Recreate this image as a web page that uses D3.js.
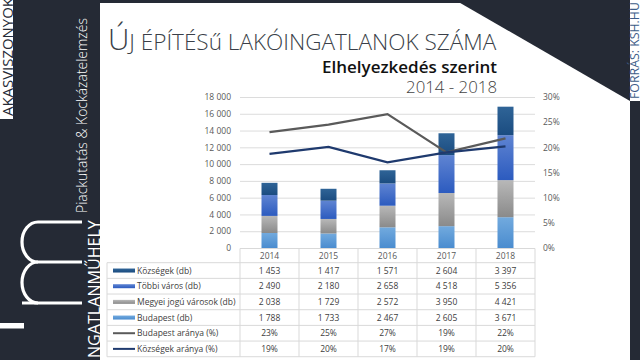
<!DOCTYPE html>
<html><head><meta charset="utf-8">
<script src="https://cdn.jsdelivr.net/npm/d3@7"></script>
<style>body{margin:0;background:#fff}svg{display:block}text{font-family:"Open Sans",sans-serif}</style>
</head><body><svg id="c" width="640" height="360"></svg>
<script>
const years = ["2014","2015","2016","2017","2018"];
const kozsegek = [1453,1417,1571,2604,3397];
const tobbiVaros = [2490,2180,2658,4518,5356];
const megyei = [2038,1729,2572,3950,4421];
const budapest = [1788,1733,2467,2605,3671];
const budapestArany = [23.0,24.5,26.6,19.0,21.8];
const kozsegekArany = [18.7,20.1,17.0,19.0,20.2];
const budapestAranyLabels = ["23%","25%","27%","19%","22%"];
const kozsegekAranyLabels = ["19%","20%","17%","19%","20%"];
const leftTicks = [0,2000,4000,6000,8000,10000,12000,14000,16000,18000];
const rightTicks = [0,5,10,15,20,25,30];
const seriesNames = ["Községek (db)","Többi város (db)","Megyei jogú városok (db)","Budapest (db)","Budapest aránya (%)","Községek aránya (%)"];

const DARK = "#252a35";
const svg = d3.select("#c");
const defs = svg.append("defs");
const grads = {
  bp: ["#72aade","#4a8ccf"],
  mj: ["#b8b8b8","#8a8a8a"],
  tv: ["#5f84d2","#2c5bbf"],
  kz: ["#2f6497","#1b4c80"]
};
Object.entries(grads).forEach(([k,c])=>{
  const g = defs.append("linearGradient").attr("id","g_"+k).attr("x1",0).attr("y1",0).attr("x2",0).attr("y2",1);
  g.append("stop").attr("offset","0%").attr("stop-color",c[0]);
  g.append("stop").attr("offset","100%").attr("stop-color",c[1]);
});

function fit(t, w){
  const fs = parseFloat(t.attr("font-size"));
  const cur = t.node().getComputedTextLength();
  t.attr("font-size", fs*w/cur);
}

// ---- decorations ----
svg.append("rect").attr("x",0).attr("y",0).attr("width",100).attr("height",360).attr("fill",DARK);
svg.append("rect").attr("x",100).attr("y",0).attr("width",530).attr("height",3).attr("fill",DARK);
svg.append("polygon").attr("points","455,0 630,0 630,101").attr("fill",DARK);
svg.append("rect").attr("x",630).attr("y",101).attr("width",10).attr("height",259).attr("fill",DARK);
svg.append("rect").attr("x",0).attr("y",0).attr("width",13).attr("height",119).attr("fill","#fff");

let t;
t = svg.append("text").attr("transform","translate(12.5,116) rotate(-90)").attr("font-size",13).attr("fill",DARK).text("AKASVISZONYOK");
fit(t,118);
t = svg.append("text").attr("transform","translate(638.5,99) rotate(-90)").attr("font-size",12).attr("fill","#3d5c88").text("FORRÁS: KSH.HU");
fit(t,97);
t = svg.append("text").attr("transform","translate(87,213) rotate(-90)").attr("font-size",12).attr("font-weight",300).attr("fill","#fff").text("Piackutatás & Kockázatelemzés");
fit(t,195);
t = svg.append("text").attr("transform","translate(100,358) rotate(-90)").attr("font-size",13).attr("fill","#fff").text("NGATLANMŰHELY");
fit(t,138);
// logo
const lg = svg.append("g").attr("fill","none").attr("stroke","#fff").attr("stroke-width",3.2);
lg.append("path").attr("d","M82,303 L22,303");
lg.append("path").attr("d","M38,303 A16,20.5 0 0 1 38,262 L82,262");
lg.append("path").attr("d","M38,262 A16,20 0 0 1 38,222 L82,222");
svg.append("rect").attr("x",0).attr("y",323).attr("width",24).attr("height",5.5).attr("fill","#fff");

// ---- titles ----
const title = svg.append("text").attr("x",108).attr("y",50).attr("fill","#3a3f48").attr("font-weight",300);
title.append("tspan").attr("font-size",25).text("Ú");
title.append("tspan").attr("font-size",19).text("J ÉPÍTÉSű LAKÓINGATLANOK SZÁMA");
{
  const w = title.node().getBBox().width;
  const s = 389/w;
  title.selectAll("tspan").each(function(){const e=d3.select(this);e.attr("font-size",parseFloat(e.attr("font-size"))*s);});
}
t = svg.append("text").attr("x",497).attr("y",73).attr("text-anchor","end").attr("font-size",16).attr("font-weight",600).attr("fill","#111").text("Elhelyezkedés szerint");
fit(t,175);
t = svg.append("text").attr("x",497).attr("y",93).attr("text-anchor","end").attr("font-size",15).attr("font-weight",300).attr("fill","#444").text("2014 - 2018");
fit(t,91);

// ---- chart ----
const x = d3.scaleBand().domain(years).range([240,535]);
const y = d3.scaleLinear().domain([0,18000]).range([248,97]);
const yR = d3.scaleLinear().domain([0,30]).range([248,97]);
const fmt = v => d3.format(",")(v).replace(/,/g," ");

const grid = svg.append("g").attr("transform","translate(240,0)")
  .call(d3.axisLeft(y).tickValues(leftTicks).tickSize(-295).tickFormat(""));
grid.select(".domain").remove();
grid.selectAll("line").attr("stroke","#dcdcdc").attr("stroke-width",1);

const ax = svg.append("g").attr("transform","translate(234,0)")
  .call(d3.axisLeft(y).tickValues(leftTicks).tickSize(0).tickPadding(3).tickFormat(fmt));
ax.select(".domain").remove();
ax.selectAll("text").attr("font-size",8.5).attr("fill","#595959").attr("font-family","'Open Sans',sans-serif");

const axR = svg.append("g").attr("transform","translate(540,0)")
  .call(d3.axisRight(yR).tickValues(rightTicks).tickSize(0).tickPadding(3).tickFormat(d=>d+"%"));
axR.select(".domain").remove();
axR.selectAll("text").attr("font-size",8.5).attr("fill","#595959").attr("font-family","'Open Sans',sans-serif");

const stackData = years.map((yr,i)=>({year:yr, bp:budapest[i], mj:megyei[i], tv:tobbiVaros[i], kz:kozsegek[i]}));
const stack = d3.stack().keys(["bp","mj","tv","kz"])(stackData);
const bw = 16;
svg.append("g").selectAll("g").data(stack).join("g").attr("fill",d=>"url(#g_"+d.key+")")
  .selectAll("rect").data(d=>d).join("rect")
  .attr("x",d=>x(d.data.year)+x.bandwidth()/2-bw/2).attr("width",bw)
  .attr("y",d=>y(d[1])).attr("height",d=>y(d[0])-y(d[1]));

const line = d3.line().x((d,i)=>x(years[i])+x.bandwidth()/2).y(d=>yR(d));
svg.append("path").attr("d",line(budapestArany)).attr("fill","none").attr("stroke","#5a5a5a").attr("stroke-width",2.3);
svg.append("path").attr("d",line(kozsegekArany)).attr("fill","none").attr("stroke","#1f3a6e").attr("stroke-width",2.3);

// ---- table ----
const rowTop = 262.7, rowH = 15.67;
const tbl = svg.append("g");
const gridC = "#d9d9d9";
// horizontal lines
for(let r=0;r<=6;r++){
  tbl.append("line").attr("x1",107).attr("x2",535).attr("y1",rowTop+r*rowH).attr("y2",rowTop+r*rowH).attr("stroke",gridC);
}
tbl.append("line").attr("x1",240).attr("x2",535).attr("y1",248.5).attr("y2",248.5).attr("stroke",gridC);
tbl.append("line").attr("x1",107).attr("x2",107).attr("y1",rowTop).attr("y2",rowTop+6*rowH).attr("stroke",gridC);
[...years.map(v=>x(v)), 535].forEach(xx=>{
  tbl.append("line").attr("x1",xx).attr("x2",xx).attr("y1",248.5).attr("y2",rowTop+6*rowH).attr("stroke",gridC);
});
tbl.selectAll("text.yr").data(years).join("text").attr("class","yr")
  .attr("x",d=>x(d)+x.bandwidth()/2).attr("y",258.5).attr("text-anchor","middle")
  .attr("font-size",8.5).attr("fill","#595959").text(d=>d);

const rows = [
  {name:seriesNames[0], vals:kozsegek.map(fmt), mk:"rect", col:"url(#g_kz)"},
  {name:seriesNames[1], vals:tobbiVaros.map(fmt), mk:"rect", col:"url(#g_tv)"},
  {name:seriesNames[2], vals:megyei.map(fmt), mk:"rect", col:"url(#g_mj)"},
  {name:seriesNames[3], vals:budapest.map(fmt), mk:"rect", col:"url(#g_bp)"},
  {name:seriesNames[4], vals:budapestAranyLabels, mk:"line", col:"#5a5a5a"},
  {name:seriesNames[5], vals:kozsegekAranyLabels, mk:"line", col:"#1f3a6e"}
];
rows.forEach((r,i)=>{
  const cy = rowTop + i*rowH + rowH/2;
  if(r.mk==="rect"){
    tbl.append("rect").attr("x",113).attr("y",cy-2).attr("width",22).attr("height",4).attr("fill",r.col);
  } else {
    tbl.append("line").attr("x1",113).attr("x2",135).attr("y1",cy).attr("y2",cy).attr("stroke",r.col).attr("stroke-width",2);
  }
  tbl.append("text").attr("x",137).attr("y",cy+3).attr("font-size",8.5).attr("fill","#404040").text(r.name);
  r.vals.forEach((v,j)=>{
    tbl.append("text").attr("x",x(years[j])+x.bandwidth()/2).attr("y",cy+3).attr("text-anchor","middle")
      .attr("font-size",8.5).attr("fill","#404040").text(v);
  });
});
</script></body></html>
